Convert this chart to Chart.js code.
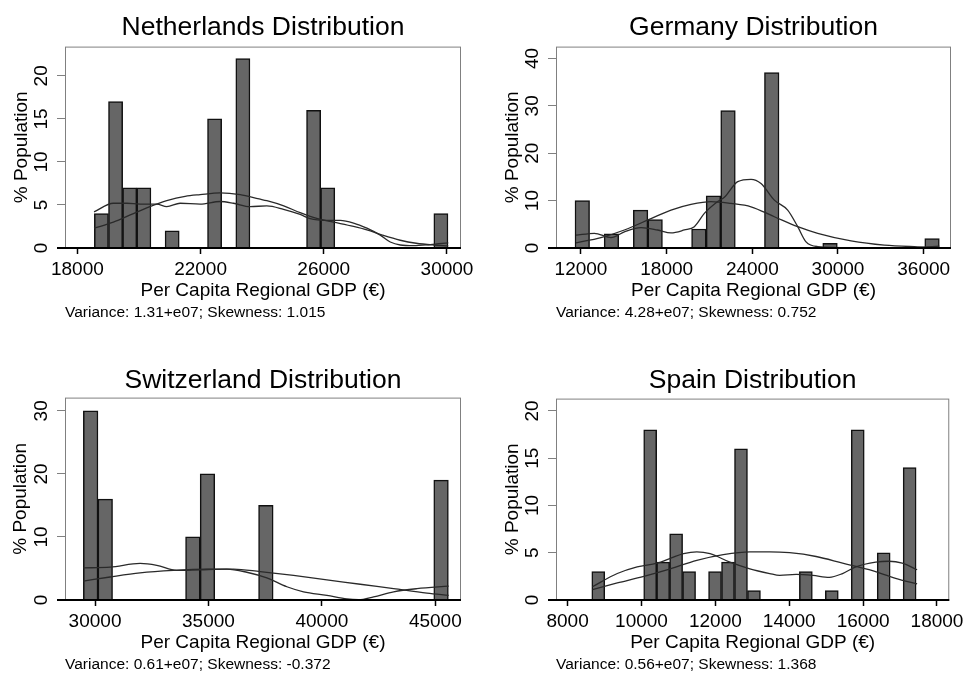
<!DOCTYPE html>
<html>
<head>
<meta charset="utf-8">
<script src="https://cdn.jsdelivr.net/npm/chart.js@4.4.0/dist/chart.umd.min.js"></script>
<style>
  html, body { margin: 0; padding: 0; background: #fff; }
  #wrap { position: relative; width: 968px; height: 675px; }
  .panel { position: absolute; }
</style>
</head>
<body>
<div id="wrap">
  <div class="panel" style="left:0;top:0"><canvas id="nl" width="484" height="340"></canvas></div>
  <div class="panel" style="left:484px;top:0"><canvas id="de" width="484" height="340"></canvas></div>
  <div class="panel" style="left:0;top:340px"><canvas id="ch" width="484" height="335"></canvas></div>
  <div class="panel" style="left:484px;top:340px"><canvas id="es" width="484" height="335"></canvas></div>
</div>
<script>
// histogram bins (% population), 25 bins each
var nlCounts = [4,17,7,7,0,2,0,0,15,0,22,0,0,0,0,16,7,0,0,0,0,0,0,0,4];
var nlBinStart = 18552, nlBinWidth = 459.2;
var deCounts = [10,0,3,0,8,6,0,0,4,11,29,0,0,37,0,0,0,1,0,0,0,0,0,0,2];
var deBinStart = 11580, deBinWidth = 1020.7;
var chCounts = [30,16,0,0,0,0,0,10,20,0,0,0,15,0,0,0,0,0,0,0,0,0,0,0,19];
var chBinStart = 29485, chBinWidth = 643.6;
var esCounts = [3,0,0,0,18,4,7,3,0,3,4,16,1,0,0,0,3,0,1,0,18,0,5,0,14];
var esBinStart = 8655, esBinWidth = 351.2;

// kernel density curves [gdp, %]
var nlKernel = [[18542,4.2],[19170,5.2],[19603,5.2],[20036,5.1],[20578,5.1],[20902,4.8],[21336,5.2],[21985,5.1],[22635,5.4],[23068,5.2],[23610,4.8],[24151,4.9],[24693,4.5],[25234,3.9],[25559,3.4],[26101,3.2],[26534,3.2],[26967,2.9],[27400,2.3],[27834,1.5],[28159,0.7],[28483,0.35],[28917,0.27],[29458,0.4],[30043,0.6]];
var deKernel = [[11650,2.7],[12934,3.1],[14102,2.2],[15036,3.4],[16203,4.3],[17371,3.8],[18305,3.2],[19239,3.8],[19939,4.5],[20640,7.3],[21574,9.8],[22041,10.7],[22975,14.0],[23909,14.5],[24609,13.6],[25543,10.1],[26477,8.0],[27178,4.5],[27761,1.3],[28579,0.3],[30914,0.1],[35584,0.1],[37101,0.4]];
var chKernel = [[29485,5.1],[30662,5.2],[31985,5.8],[32721,5.5],[33603,4.7],[34632,4.8],[35809,4.9],[36691,4.4],[37574,3.5],[38456,2.1],[39191,1.3],[40221,0.74],[41103,0.16],[41618,0.05],[42279,0.5],[43162,1.3],[44191,1.8],[45588,2.2]];
var esKernel = [[8673,1.4],[9345,2.8],[9883,3.5],[10422,3.9],[10780,4.4],[11139,4.9],[11498,5.1],[11857,4.9],[12395,4.0],[12933,3.3],[13471,2.8],[13740,2.6],[14189,2.7],[14637,2.6],[15086,2.4],[15444,2.8],[15803,3.5],[16341,4.0],[16700,4.1],[17059,3.9],[17462,3.2]];

// normal density curves [gdp, %]
var nlNormal = [[18542,2.3],[19170,3.0],[19820,4.0],[20500,5.0],[20903,5.5],[21500,6.0],[21985,6.2],[22636,6.4],[23285,6.2],[23900,5.7],[24151,5.5],[24700,4.9],[25234,4.1],[25800,3.4],[26317,3.0],[26967,2.5],[27400,2.1],[27900,1.5],[28483,0.9],[29000,0.55],[29566,0.35],[30043,0.25]];
var deNormal = [[11650,1.1],[13401,2.2],[15036,3.8],[16904,6.2],[18305,8.0],[19706,9.2],[21107,9.8],[22508,9.4],[23909,8.7],[25543,6.6],[27178,4.5],[28579,3.1],[30914,1.5],[33249,0.6],[35584,0.25],[37101,0.1]];
var chNormal = [[29485,3.0],[30662,3.65],[31985,4.3],[33456,4.7],[34926,4.9],[36103,4.9],[37279,4.5],[38750,3.9],[40221,3.2],[41691,2.5],[43162,1.8],[44632,1.1],[45588,0.74]];
var esNormal = [[8673,1.1],[9345,1.8],[10063,2.5],[10780,3.3],[11498,4.2],[12215,4.8],[12933,5.1],[13471,5.1],[14009,5.0],[14727,4.6],[15444,3.9],[16162,3.2],[16879,2.3],[17462,1.7]];

// tick labels
var nlXTicks = [18000,22000,26000,30000], nlYTicks = [0,5,10,15,20];
var deXTicks = [12000,18000,24000,30000,36000], deYTicks = [0,10,20,30,40];
var chXTicks = [30000,35000,40000,45000], chYTicks = [0,10,20,30];
var esXTicks = [8000,10000,12000,14000,16000,18000], esYTicks = [0,5,10,15,20];

var FONT = "'Liberation Sans', Arial, sans-serif";

// box round the plot region, heavier line along the x axis
var framePlugin = {
  id: 'frame',
  afterDraw: function(chart) {
    var a = chart.chartArea, c = chart.ctx;
    c.save();
    c.strokeStyle = '#808080';
    c.lineWidth = 1;
    c.strokeRect(a.left + 0.5, a.top + 0.5, a.right - a.left - 1, a.bottom - a.top);
    c.strokeStyle = '#000';
    c.lineWidth = 2;
    c.beginPath();
    c.moveTo(a.left - 8, a.bottom);
    c.lineTo(a.right, a.bottom);
    c.stroke();
    c.restore();
  }
};

function bins(counts, start, width) {
  return counts.map(function(v, i) { return { x: start + (i + 0.5) * width, y: v }; });
}
function pts(list) {
  return list.map(function(p) { return { x: p[0], y: p[1] }; });
}
function curve(list) {
  return {
    type: 'line', data: pts(list), borderColor: '#2a2a2a', borderWidth: 1.3,
    pointRadius: 0, cubicInterpolationMode: 'monotone', fill: false
  };
}

function makeChart(id, p) {
  new Chart(document.getElementById(id), {
    data: {
      datasets: [
        curve(p.kernel),
        curve(p.normal),
        {
          type: 'bar', data: bins(p.counts, p.start, p.width),
          backgroundColor: '#666666', borderColor: '#111', borderWidth: 1.5,
          barPercentage: 1, categoryPercentage: 1
        }
      ]
    },
    options: {
      responsive: false, animation: false, devicePixelRatio: 1,
      layout: { padding: { left: 0, right: p.padRight, top: 0, bottom: p.padBottom } },
      plugins: {
        legend: { display: false },
        tooltip: { enabled: false },
        title: {
          display: true, text: p.title, fullSize: false, color: '#000',
          font: { family: FONT, size: 26.5, weight: 'normal' },
          padding: { top: p.titleTop, bottom: p.titleBottom }
        },
        subtitle: {
          display: true, text: p.note, position: 'bottom', align: 'start', fullSize: false,
          color: '#000', font: { family: FONT, size: 15.5, weight: 'normal' },
          padding: { top: 0, bottom: 0 }
        }
      },
      scales: {
        x: {
          type: 'linear', min: p.xMin, max: p.xMax, offset: false,
          afterBuildTicks: function(ax) { ax.ticks = p.xTicks.map(function(v) { return { value: v }; }); },
          afterFit: function(ax) { ax.height = 55.7; },
          grid: { offset: false, drawOnChartArea: false, drawTicks: true, tickLength: 6, tickColor: '#000', tickWidth: 1.5 },
          border: { display: false },
          ticks: { color: '#000', padding: 4, maxRotation: 0, autoSkip: false,
                   font: { family: FONT, size: 19 }, callback: function(v) { return String(v); } },
          title: { display: true, text: 'Per Capita Regional GDP (€)', color: '#000',
                   font: { family: FONT, size: 19 }, padding: { top: 0, bottom: 2 } }
        },
        y: {
          min: 0, max: p.yMax,
          afterBuildTicks: function(ax) { ax.ticks = p.yTicks.map(function(v) { return { value: v }; }); },
          afterFit: function(ax) { ax.width = p.yWidth; },
          grid: { drawOnChartArea: false, drawTicks: true, tickLength: 8, tickColor: '#808080' },
          border: { display: false },
          ticks: { color: '#000', padding: 5, minRotation: 90, maxRotation: 90, crossAlign: 'center',
                   autoSkip: false, font: { family: FONT, size: 19 } },
          title: { display: true, text: '% Population', color: '#000',
                   font: { family: FONT, size: 19 }, padding: { top: p.yTitlePad, bottom: 0 } }
        }
      }
    },
    plugins: [framePlugin]
  });
}

makeChart('nl', {
  title: 'Netherlands Distribution', note: 'Variance: 1.31+e07; Skewness: 1.015',
  counts: nlCounts, start: nlBinStart, width: nlBinWidth, kernel: nlKernel, normal: nlNormal,
  xTicks: nlXTicks, yTicks: nlYTicks, xMin: 17599, xMax: 30455, yMax: 23.4,
  yWidth: 65, padRight: 23, padBottom: 17.7, titleTop: 11.4, titleBottom: 3.4, yTitlePad: 10.3
});
makeChart('de', {
  title: 'Germany Distribution', note: 'Variance: 4.28+e07; Skewness: 0.752',
  counts: deCounts, start: deBinStart, width: deBinWidth, kernel: deKernel, normal: deNormal,
  xTicks: deXTicks, yTicks: deYTicks, xMin: 10249, xMax: 37915, yMax: 42.5,
  yWidth: 72, padRight: 17, padBottom: 17.7, titleTop: 11.4, titleBottom: 3.4, yTitlePad: 16.9
});
makeChart('ch', {
  title: 'Switzerland Distribution', note: 'Variance: 0.61+e07; Skewness: -0.372',
  counts: chCounts, start: chBinStart, width: chBinWidth, kernel: chKernel, normal: chNormal,
  xTicks: chXTicks, yTicks: chYTicks, xMin: 28676, xMax: 46132, yMax: 32.1,
  yWidth: 65, padRight: 23, padBottom: 0.7, titleTop: 24.4, titleBottom: 1.4, yTitlePad: 9.3
});
makeChart('es', {
  title: 'Spain Distribution', note: 'Variance: 0.56+e07; Skewness: 1.368',
  counts: esCounts, start: esBinStart, width: esBinWidth, kernel: esKernel, normal: esNormal,
  xTicks: esXTicks, yTicks: esYTicks, xMin: 7686, xMax: 18332, yMax: 21.3,
  yWidth: 72, padRight: 17, padBottom: 0.7, titleTop: 24.4, titleBottom: 2.4, yTitlePad: 16.9
});
</script>
</body>
</html>
